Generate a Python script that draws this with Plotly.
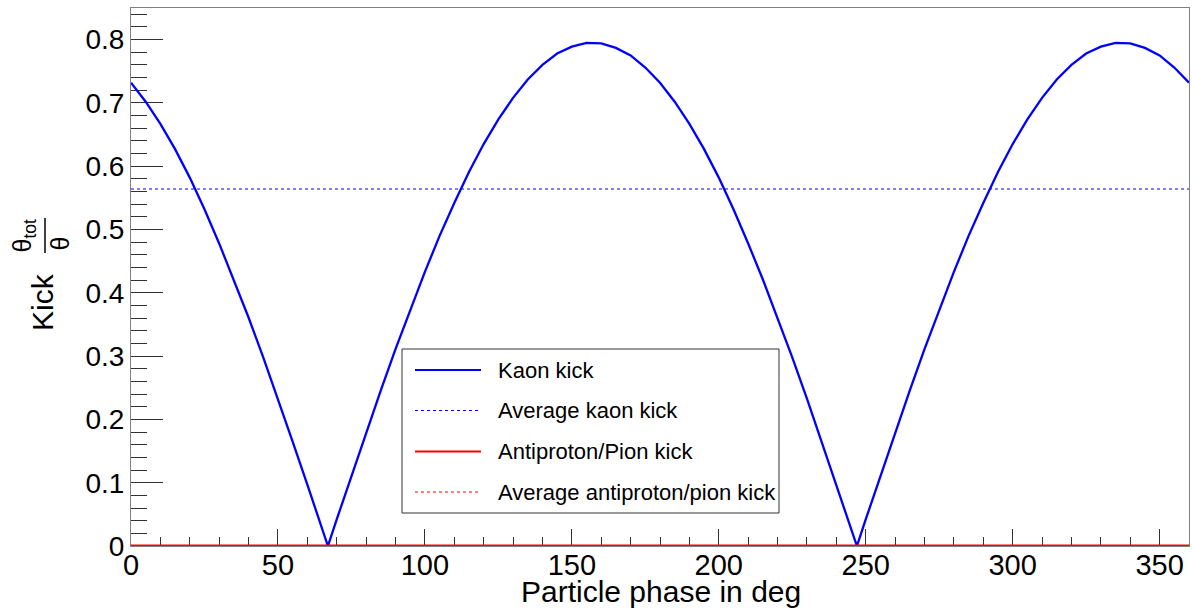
import plotly.graph_objects as go

# ---------------- data ----------------
phase_deg = [0, 5, 10, 15, 20, 25, 30, 35, 40, 45, 50, 55, 60, 65, 67,
             70, 75, 80, 85, 90, 95, 100, 105, 110, 115, 120, 125, 130, 135,
             140, 145, 150, 155, 160, 165, 170, 175,
             180, 185, 190, 195, 200, 205, 210, 215, 220, 225, 230, 235, 240, 245, 247,
             250, 255, 260, 265, 270, 275, 280, 285, 290, 295, 300, 305, 310, 315,
             320, 325, 330, 335, 340, 345, 350, 355, 360]
kaon_kick = [0.732, 0.702, 0.667, 0.627, 0.582, 0.532, 0.478, 0.421, 0.361, 0.298, 0.233, 0.165, 0.097, 0.028, 0.0,
             0.042, 0.111, 0.179, 0.246, 0.311, 0.373, 0.433, 0.490, 0.542, 0.591, 0.635, 0.674, 0.708, 0.737,
             0.760, 0.778, 0.789, 0.795, 0.794, 0.787, 0.775, 0.756,
             0.732, 0.702, 0.667, 0.627, 0.582, 0.532, 0.478, 0.421, 0.361, 0.298, 0.233, 0.165, 0.097, 0.028, 0.0,
             0.042, 0.111, 0.179, 0.246, 0.311, 0.373, 0.433, 0.490, 0.542, 0.591, 0.635, 0.674, 0.708, 0.737,
             0.760, 0.778, 0.789, 0.795, 0.794, 0.787, 0.775, 0.756, 0.732]
avg_phase = [0, 360]
avg_kaon_kick = [0.564, 0.564]
pion_phase = [0, 360]
pion_kick = [0.0, 0.0]
avg_pion_kick = [0.0, 0.0]
series_names = ["Kaon kick", "Average kaon kick", "Antiproton/Pion kick",
                "Average antiproton/pion kick"]
x_tick_vals = [0, 50, 100, 150, 200, 250, 300, 350]
y_tick_vals = [0, 0.1, 0.2, 0.3, 0.4, 0.5, 0.6, 0.7, 0.8]
x_title = "Particle phase in deg"

# ---------------- layout geometry ----------------
W, H = 1192, 612
ML, MR, MT, MB = 131, 3, 8, 66
PW, PH = W - ML - MR, H - MT - MB


def px(x):
    return (x - ML) / PW


def py(y):
    return (H - MB - y) / PH


FONT = "Liberation Sans, Arial, Helvetica, sans-serif"
BLUE, RED = "#0000ff", "#ff0000"

styles = [dict(color=BLUE, width=2.3, dash="solid"),
          dict(color=BLUE, width=1.2, dash="dot"),
          dict(color=RED, width=3, dash="solid"),
          dict(color=RED, width=1.2, dash="dot")]
xs = [phase_deg, avg_phase, pion_phase, pion_phase]
ys = [kaon_kick, avg_kaon_kick, pion_kick, avg_pion_kick]

fig = go.Figure()
for name, x, y, st in zip(series_names, xs, ys, styles):
    fig.add_trace(go.Scatter(x=x, y=y, mode="lines", name=name, line=st,
                             showlegend=False, hoverinfo="skip"))

tickc = "#333333"
fig.update_layout(
    width=W, height=H,
    margin=dict(l=ML, r=MR, t=MT, b=MB, pad=0),
    paper_bgcolor="white", plot_bgcolor="white",
    font=dict(family=FONT, color="black"),
    xaxis=dict(range=[0, 360], tickvals=x_tick_vals, ticks="inside", ticklen=17,
               tickwidth=1, tickcolor=tickc,
               minor=dict(ticks="inside", ticklen=9, dtick=10, tick0=0, tickcolor=tickc),
               showline=True, mirror=True, linecolor="#808080", linewidth=1,
               showgrid=False, zeroline=False, layer="below traces",
               tickfont=dict(size=29, family=FONT), ticklabelstandoff=-7),
    yaxis=dict(range=[0, 0.85], tickvals=y_tick_vals, ticks="inside", ticklen=32,
               tickwidth=1, tickcolor=tickc,
               minor=dict(ticks="inside", ticklen=16, dtick=0.02, tick0=0, tickcolor=tickc),
               showline=True, mirror=True, linecolor="#808080", linewidth=1,
               showgrid=False, zeroline=False, layer="below traces",
               tickfont=dict(size=28, family=FONT), ticklabelstandoff=0),
)

shapes = []
annotations = []

# x axis title
annotations.append(dict(text=x_title, x=px(661), y=py(591), xref="paper", yref="paper",
                        xanchor="center", yanchor="middle", showarrow=False,
                        font=dict(size=30, family=FONT)))
# y axis title: "Kick" + fraction theta_tot / theta
annotations.append(dict(text="Kick", x=px(42), y=py(302), xref="paper", yref="paper",
                        xanchor="center", yanchor="middle", showarrow=False, textangle=-90,
                        font=dict(size=30, family=FONT)))
annotations.append(dict(text="θ<sub>tot</sub>", x=px(24), y=py(235.5), xref="paper", yref="paper",
                        xanchor="center", yanchor="middle", showarrow=False, textangle=-90,
                        font=dict(size=25, family=FONT)))
annotations.append(dict(text="θ", x=px(59), y=py(243.5), xref="paper", yref="paper",
                        xanchor="center", yanchor="middle", showarrow=False, textangle=-90,
                        font=dict(size=25, family=FONT)))
shapes.append(dict(type="line", xref="paper", yref="paper", x0=px(45), x1=px(45),
                   y0=py(218), y1=py(253), line=dict(color="black", width=1.5)))

# legend box
LX0, LX1, LY0, LY1 = 402, 779, 349, 513
shapes.append(dict(type="rect", xref="paper", yref="paper", x0=px(LX0), x1=px(LX1),
                   y0=py(LY1), y1=py(LY0), fillcolor="white",
                   line=dict(color="#333333", width=1), layer="above"))
entry_y = [370, 410.5, 451.5, 492]
for name, st, yc in zip(series_names, styles, entry_y):
    shapes.append(dict(type="line", xref="paper", yref="paper", x0=px(415), x1=px(481),
                       y0=py(yc), y1=py(yc), layer="above",
                       line=dict(color=st["color"], width=2 if st["dash"] == "solid" else 1.2,
                                 dash=st["dash"])))
    annotations.append(dict(text=name, x=px(496), y=py(yc), xref="paper", yref="paper",
                            xanchor="left", yanchor="middle", showarrow=False,
                            font=dict(size=22, family=FONT)))

fig.update_layout(shapes=shapes, annotations=annotations)
fig.write_html("out.html")
